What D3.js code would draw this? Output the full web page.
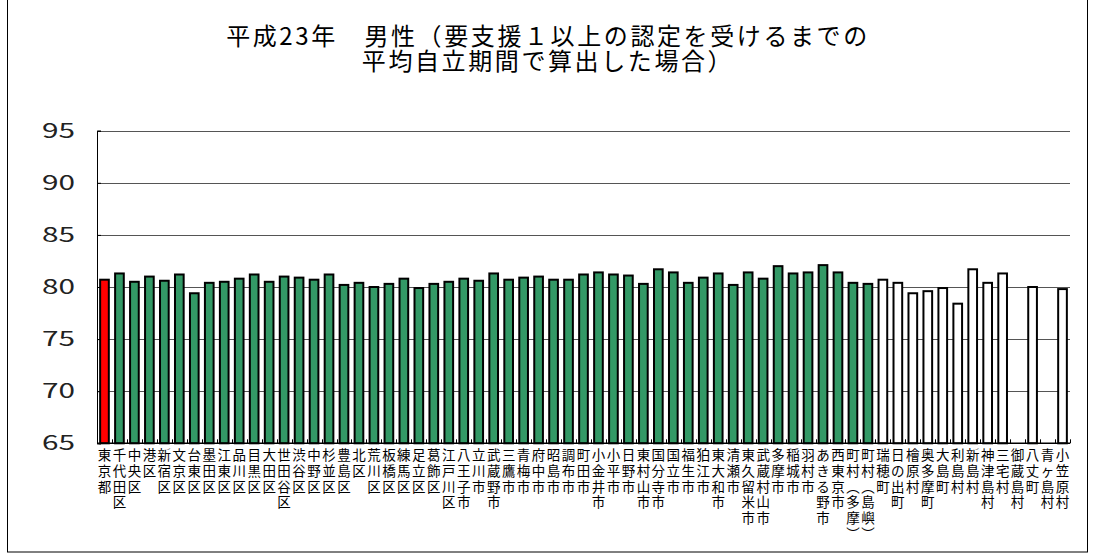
<!DOCTYPE html>
<html>
<head>
<meta charset="utf-8">
<script src="https://cdn.jsdelivr.net/npm/d3@7"></script>
<style>
  html, body { margin: 0; padding: 0; background: #fff; }
  svg { display: block; }
  text { font-family: "Noto Sans CJK JP", "Noto Sans", sans-serif; }
</style>
</head>
<body>
<svg id="chart" width="1095" height="553"></svg>
<script>
// ---- Data ----
const titleLines = ["平成23年\u3000男性（要支援１以上の認定を受けるまでの", "平均自立期間で算出した場合）"];

const prefecture = ["東京都"];
const prefectureValues = [80.7];

const wards = ["千代田区","中央区","港区","新宿区","文京区","台東区","墨田区","江東区","品川区","目黒区","大田区","世田谷区","渋谷区","中野区","杉並区","豊島区","北区","荒川区","板橋区","練馬区","足立区","葛飾区","江戸川区"];
const wardValues = [81.3,80.5,81.0,80.6,81.2,79.4,80.4,80.5,80.8,81.2,80.5,81.0,80.9,80.7,81.2,80.2,80.4,80.0,80.3,80.8,79.9,80.3,80.5];

const cities = ["八王子市","立川市","武蔵野市","三鷹市","青梅市","府中市","昭島市","調布市","町田市","小金井市","小平市","日野市","東村山市","国分寺市","国立市","福生市","狛江市","東大和市","清瀬市","東久留米市","武蔵村山市","多摩市","稲城市","羽村市","あきる野市","西東京市","町村（多摩）","町村（島嶼）"];
const cityValues = [80.8,80.6,81.3,80.7,80.9,81.0,80.7,80.7,81.2,81.4,81.2,81.1,80.3,81.7,81.4,80.4,80.9,81.3,80.2,81.4,80.8,82.0,81.3,81.4,82.1,81.4,80.4,80.3];

const towns = ["瑞穂町","日の出町","檜原村","奥多摩町","大島町","利島村","新島村","神津島村","三宅村","御蔵島村","八丈町","青ヶ島村","小笠原村"];
const townValues = [80.7,80.4,79.4,79.6,79.9,78.4,81.7,80.4,81.3,null,80.0,null,79.8];

const yTicks = [65,70,75,80,85,90,95];

const groupColors = { prefecture: "#ff0000", ward: "#339966", city: "#339966", town: "#ffffff" };

// ---- Build rows ----
const rows = [];
prefecture.forEach((c,i)=>rows.push({name:c, value:prefectureValues[i], group:"prefecture"}));
wards.forEach((c,i)=>rows.push({name:c, value:wardValues[i], group:"ward"}));
cities.forEach((c,i)=>rows.push({name:c, value:cityValues[i], group:"city"}));
towns.forEach((c,i)=>rows.push({name:c, value:townValues[i], group:"town"}));

// ---- Layout ----
const svg = d3.select("#chart");
const plot = { left: 97, right: 1070, top: 130.7, bottom: 443.3 };

const x = d3.scaleBand().domain(rows.map(d=>d.name)).range([plot.left, plot.right]).paddingInner(0.42).paddingOuter(0.21);
const y = d3.scaleLinear().domain([65,95]).range([plot.bottom, plot.top]);

// chart frame
svg.append("rect").attr("x",7.5).attr("y",-2).attr("width",1080).attr("height",554)
  .attr("fill","none").attr("stroke","#000").attr("stroke-width",1);

// title
titleLines.forEach((t,i)=>svg.append("text").attr("text-anchor","middle").attr("font-size",24)
  .attr("letter-spacing","2.6px").attr("fill","#000")
  .attr("x",548).attr("y",45 + i*25).text(t));

// gridlines
svg.append("g").selectAll("line").data(yTicks.filter(v=>v>65)).join("line")
  .attr("x1",plot.left).attr("x2",plot.right)
  .attr("y1",d=>Math.round(y(d))+0.5).attr("y2",d=>Math.round(y(d))+0.5)
  .attr("stroke","#555").attr("stroke-width",1);

// y axis
const yAxis = d3.axisLeft(y).tickValues(yTicks).tickSize(-4).tickPadding(22);
const gy = svg.append("g").attr("transform",`translate(${plot.left},0)`).call(yAxis);
gy.select(".domain").attr("stroke","#000");
gy.selectAll(".tick line").attr("stroke","#000");
gy.selectAll(".tick text").attr("font-family","'Liberation Sans', Arial, sans-serif").attr("font-size",20).attr("fill","#222")
  .attr("textLength",33).attr("lengthAdjust","spacingAndGlyphs");

// bars
svg.append("g").selectAll("rect").data(rows.filter(d=>d.value!=null)).join("rect")
  .attr("x",d=>x(d.name)).attr("width",x.bandwidth())
  .attr("y",d=>y(d.value)).attr("height",d=>y(65)-y(d.value))
  .attr("fill",d=>groupColors[d.group]).attr("stroke","#000").attr("stroke-width",2);

// x axis line & ticks
const boundaries = d3.range(rows.length+1).map(i=>plot.left + i*(plot.right-plot.left)/rows.length);
svg.append("line").attr("x1",plot.left).attr("x2",plot.right).attr("y1",plot.bottom).attr("y2",plot.bottom).attr("stroke","#000").attr("stroke-width",1.5);
svg.append("g").selectAll("line").data(boundaries).join("line")
  .attr("x1",d=>Math.round(d)+0.5).attr("x2",d=>Math.round(d)+0.5)
  .attr("y1",plot.bottom).attr("y2",plot.bottom-4).attr("stroke","#000");

// x labels (vertical stacked characters)
const vert = s => Array.from(s.replace(/（/g,"︵").replace(/）/g,"︶"));
const xl = svg.append("g");
rows.forEach(d=>{
  const cx = x(d.name) + x.bandwidth()/2;
  vert(d.name).forEach((ch,i)=>{
    xl.append("text").attr("text-anchor","middle").attr("font-size",13.5).attr("fill","#000")
      .attr("x",cx).attr("y",460 + i*15.8).text(ch);
  });
});
</script>
</body>
</html>
